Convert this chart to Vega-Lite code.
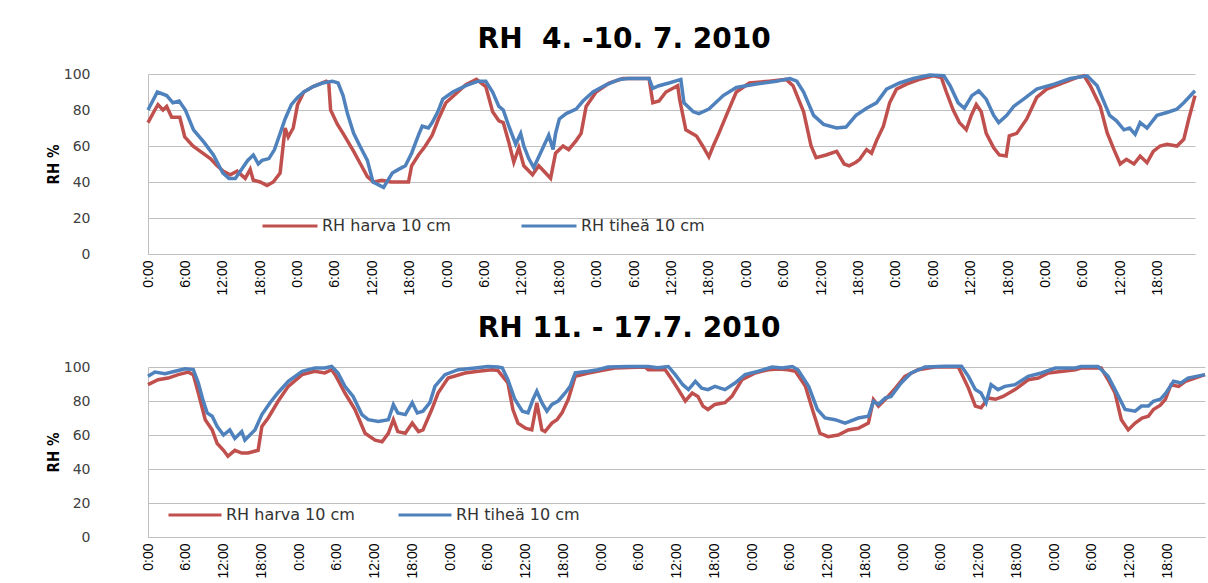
{
  "$schema": "https://vega.github.io/schema/vega-lite/v6.json",
  "background": "white",
  "padding": {"left": 46, "top": 26, "right": 0, "bottom": 0},
  "config": {
    "font": "DejaVu Sans",
    "view": {"stroke": null},
    "title": {"font": "DejaVu Sans", "fontSize": 28, "fontWeight": "bold", "color": "#000000", "anchor": "middle", "frame": "bounds"},
    "concat": {"spacing": 19},
    "axisX": {"labelFont": "Liberation Sans", "labelFontSize": 14, "labelColor": "#000000", "labelAngle": -90, "labelPadding": 6, "labelFlush": false, "labelOverlap": false, "labelBound": false, "ticks": false, "grid": false, "domainColor": "#BFBFBF", "title": null},
    "axisY": {"labelFont": "DejaVu Sans", "labelFontSize": 14, "labelColor": "#404040", "ticks": false, "gridColor": "#BFBFBF", "domainColor": "#BFBFBF", "titleFont": "DejaVu Sans Condensed", "titleFontSize": 15, "titleFontWeight": "bold", "titleColor": "#000000"},
    "legend": {"orient": "none", "direction": "horizontal", "title": null, "symbolType": "stroke", "symbolStrokeWidth": 3, "labelFont": "DejaVu Sans", "labelFontSize": 16, "labelColor": "#333333", "labelOffset": 3}
  },
  "resolve": {"scale": {"color": "independent"}, "legend": {"color": "independent"}},
  "datasets": {
    "a1": [
      {"h":0,"v":73},{"h":1.1,"v":80},{"h":1.6,"v":83},{"h":2.4,"v":80},{"h":3,"v":82},{"h":3.8,"v":76},{"h":5.1,"v":76},{"h":5.9,"v":65},{"h":7.2,"v":60},{"h":8.4,"v":57},{"h":10,"v":53},{"h":11.1,"v":49},{"h":12.1,"v":46},{"h":13.2,"v":44},{"h":14.3,"v":46},{"h":15.6,"v":42},{"h":16.4,"v":47},{"h":16.9,"v":41},{"h":18,"v":40},{"h":19.1,"v":38},{"h":20.1,"v":40},{"h":21.2,"v":45},{"h":22,"v":70},{"h":22.5,"v":65},{"h":23.3,"v":70},{"h":24,"v":83},{"h":25,"v":90},{"h":26.5,"v":93},{"h":28.6,"v":96},{"h":29,"v":95},{"h":29.3,"v":80},{"h":30.4,"v":72},{"h":31.3,"v":67},{"h":33,"v":57},{"h":34.1,"v":50},{"h":35.2,"v":43},{"h":36.2,"v":40},{"h":37.5,"v":41},{"h":39,"v":40},{"h":41.8,"v":40},{"h":42.3,"v":49},{"h":43.4,"v":55},{"h":44.5,"v":60},{"h":45.6,"v":66},{"h":46.6,"v":75},{"h":47.8,"v":84},{"h":49.4,"v":89},{"h":51,"v":94},{"h":52.7,"v":97},{"h":54.2,"v":93},{"h":55.3,"v":79},{"h":56.3,"v":74},{"h":57,"v":73},{"h":57.9,"v":62},{"h":58.7,"v":51},{"h":59.5,"v":59},{"h":60.3,"v":49},{"h":61.7,"v":44},{"h":62.7,"v":49},{"h":63.8,"v":45},{"h":64.6,"v":42},{"h":65.4,"v":56},{"h":66.6,"v":60},{"h":67.5,"v":58},{"h":68.7,"v":63},{"h":69.5,"v":67},{"h":70.3,"v":82},{"h":71.9,"v":90},{"h":74,"v":95},{"h":76.2,"v":97.5},{"h":80.4,"v":97.5},{"h":81,"v":84},{"h":82,"v":85},{"h":83.1,"v":90},{"h":85,"v":93.5},{"h":85.3,"v":86},{"h":86.3,"v":69},{"h":88,"v":65.6},{"h":89,"v":60},{"h":90,"v":54},{"h":90.7,"v":60},{"h":91.6,"v":67},{"h":92.8,"v":77},{"h":94.4,"v":90},{"h":96.5,"v":95},{"h":99.7,"v":96},{"h":102.4,"v":97},{"h":103.5,"v":93.5},{"h":105.2,"v":79},{"h":106.4,"v":60},{"h":107.2,"v":53.5},{"h":108.8,"v":55},{"h":110.5,"v":57},{"h":111.7,"v":50},{"h":112.5,"v":49},{"h":113.6,"v":51},{"h":114.2,"v":52.6},{"h":115.3,"v":58},{"h":116.1,"v":56},{"h":116.9,"v":63},{"h":118,"v":71},{"h":119,"v":84},{"h":120.1,"v":91.6},{"h":121.7,"v":94.4},{"h":123.8,"v":97},{"h":126,"v":99},{"h":127.3,"v":98},{"h":128.1,"v":90},{"h":129.2,"v":80},{"h":130.2,"v":73},{"h":131.3,"v":69},{"h":132.1,"v":77},{"h":132.9,"v":83},{"h":133.7,"v":79},{"h":134.5,"v":67},{"h":135.7,"v":59},{"h":136.6,"v":55},{"h":137.7,"v":54.4},{"h":138.2,"v":65.6},{"h":139.4,"v":67},{"h":141,"v":75},{"h":142.6,"v":87},{"h":144.2,"v":91.6},{"h":146.3,"v":94.4},{"h":149,"v":98},{"h":150.2,"v":99},{"h":151.2,"v":93.5},{"h":152.8,"v":82},{"h":153.9,"v":67.4},{"h":155,"v":58},{"h":156,"v":50},{"h":157,"v":52.6},{"h":158.2,"v":50},{"h":159.2,"v":54.4},{"h":160.3,"v":50.7},{"h":161.3,"v":57},{"h":162.4,"v":60},{"h":163.5,"v":61},{"h":165.1,"v":60},{"h":166.2,"v":63.7},{"h":167,"v":75},{"h":168,"v":88}
    ],
    "b1": [
      {"h":0,"v":80},{"h":1.5,"v":90},{"h":3,"v":88},{"h":4,"v":84},{"h":5,"v":85},{"h":6,"v":80},{"h":7.3,"v":69},{"h":9,"v":62},{"h":10.5,"v":55},{"h":12,"v":45},{"h":13,"v":42},{"h":14,"v":42},{"h":15,"v":47},{"h":16,"v":52},{"h":16.9,"v":55},{"h":17.7,"v":50},{"h":18.3,"v":52},{"h":19.4,"v":53},{"h":20.3,"v":58},{"h":21,"v":65},{"h":22,"v":75},{"h":23,"v":83},{"h":24,"v":87},{"h":25,"v":90},{"h":26.5,"v":93},{"h":28,"v":95},{"h":29.6,"v":96},{"h":30.5,"v":95},{"h":31.3,"v":88},{"h":32,"v":78},{"h":33,"v":67},{"h":34,"v":60},{"h":35.2,"v":52},{"h":36.1,"v":40},{"h":37.8,"v":37},{"h":39.2,"v":45},{"h":40.2,"v":47},{"h":41.3,"v":49},{"h":42.3,"v":56},{"h":43.4,"v":66},{"h":44,"v":71},{"h":45,"v":70},{"h":45.6,"v":73},{"h":46.5,"v":79},{"h":47.3,"v":86},{"h":48.9,"v":90},{"h":51,"v":93.5},{"h":53,"v":96},{"h":54.2,"v":96},{"h":55.3,"v":90},{"h":56.3,"v":82},{"h":57,"v":80},{"h":57.9,"v":71},{"h":59,"v":61},{"h":59.8,"v":67},{"h":60.3,"v":60},{"h":61.1,"v":53},{"h":61.9,"v":48},{"h":62.7,"v":54},{"h":63.5,"v":60},{"h":64.3,"v":66},{"h":65,"v":58},{"h":65.4,"v":67},{"h":66,"v":75},{"h":67.1,"v":78},{"h":68.7,"v":80.5},{"h":69.8,"v":85},{"h":71.4,"v":90},{"h":73.5,"v":94},{"h":75.6,"v":97},{"h":77,"v":97.5},{"h":80.4,"v":97.5},{"h":81,"v":92},{"h":82,"v":93.5},{"h":83.6,"v":95},{"h":85.5,"v":97},{"h":86,"v":84},{"h":87.5,"v":79},{"h":88.4,"v":78},{"h":90,"v":80.5},{"h":92.3,"v":88},{"h":94.4,"v":92.5},{"h":97.6,"v":94.4},{"h":100.8,"v":96},{"h":103,"v":97.5},{"h":104.1,"v":96},{"h":105.2,"v":90},{"h":106.8,"v":77},{"h":108.4,"v":72},{"h":110.5,"v":70},{"h":112,"v":70.5},{"h":113.6,"v":77},{"h":115.3,"v":81},{"h":116.9,"v":84},{"h":118.5,"v":91.6},{"h":120.6,"v":95},{"h":122.8,"v":97.5},{"h":125.4,"v":99.4},{"h":127.7,"v":99},{"h":128.7,"v":93.5},{"h":130,"v":84},{"h":131,"v":81},{"h":132.2,"v":88},{"h":133.3,"v":90.7},{"h":134.5,"v":86},{"h":135.7,"v":77},{"h":136.5,"v":73},{"h":137.8,"v":77},{"h":138.9,"v":82},{"h":140.5,"v":86},{"h":142.6,"v":91.6},{"h":145.4,"v":94.4},{"h":148,"v":97.5},{"h":150.7,"v":99},{"h":152.3,"v":93.5},{"h":154.3,"v":77},{"h":155.4,"v":74},{"h":156.6,"v":69},{"h":157.5,"v":70},{"h":158.4,"v":66.5},{"h":159.2,"v":73},{"h":160.3,"v":70},{"h":161.9,"v":77},{"h":163.5,"v":78.6},{"h":165.1,"v":80.5},{"h":166.2,"v":84},{"h":168,"v":90.7}
    ],
    "a2": [
      {"h":0,"v":89.6},{"h":1.6,"v":92.5},{"h":3.2,"v":93.5},{"h":4.8,"v":95.5},{"h":6.4,"v":97},{"h":7.2,"v":95.5},{"h":8,"v":84.7},{"h":9.1,"v":69},{"h":10.2,"v":63},{"h":11,"v":55},{"h":12,"v":51},{"h":12.7,"v":47.5},{"h":13.8,"v":51},{"h":14.9,"v":49.4},{"h":15.9,"v":49.4},{"h":17.5,"v":51},{"h":18.1,"v":65},{"h":19.1,"v":70},{"h":20.7,"v":80},{"h":22.3,"v":88.6},{"h":24.5,"v":95.5},{"h":26.5,"v":97.5},{"h":28.1,"v":96.5},{"h":29.2,"v":98.4},{"h":29.9,"v":94.5},{"h":31.3,"v":84.7},{"h":32.9,"v":75},{"h":34.5,"v":61},{"h":36.1,"v":57},{"h":37.2,"v":56},{"h":38.2,"v":61},{"h":39,"v":69},{"h":39.7,"v":62},{"h":40.9,"v":61},{"h":42,"v":67},{"h":43,"v":62},{"h":43.7,"v":63},{"h":45.1,"v":75},{"h":46.1,"v":84.7},{"h":47.7,"v":93.5},{"h":50.4,"v":96.5},{"h":52.5,"v":97.5},{"h":54.7,"v":98.4},{"h":55.6,"v":98},{"h":57.2,"v":90.6},{"h":58,"v":75},{"h":58.8,"v":67},{"h":60,"v":64},{"h":61,"v":63},{"h":61.8,"v":79},{"h":62.6,"v":63},{"h":63.1,"v":62},{"h":64.2,"v":67},{"h":65,"v":69},{"h":65.8,"v":73},{"h":66.8,"v":81},{"h":67.9,"v":94.5},{"h":70,"v":96.5},{"h":72.7,"v":98.4},{"h":74.2,"v":99.4},{"h":79,"v":100},{"h":79.5,"v":98.4},{"h":82.2,"v":98.4},{"h":83.3,"v":92.5},{"h":84.3,"v":86.7},{"h":85.4,"v":80},{"h":86.5,"v":84.7},{"h":87.4,"v":82.7},{"h":88.2,"v":77},{"h":89,"v":75},{"h":90.1,"v":78},{"h":91.7,"v":79},{"h":92.8,"v":82.7},{"h":94.4,"v":92.5},{"h":96.5,"v":96.5},{"h":98.6,"v":98.4},{"h":100.2,"v":98.8},{"h":101.7,"v":98.4},{"h":102.9,"v":97.5},{"h":104.5,"v":88.6},{"h":105.6,"v":75},{"h":106.8,"v":61},{"h":108.1,"v":59},{"h":109.7,"v":60},{"h":111.3,"v":63},{"h":112.9,"v":64},{"h":114.5,"v":67},{"h":115.3,"v":80.8},{"h":116.1,"v":77},{"h":117.2,"v":81},{"h":118.8,"v":87.6},{"h":120.3,"v":94.5},{"h":122.4,"v":98.4},{"h":125.1,"v":100},{"h":128.8,"v":100},{"h":130.4,"v":87.6},{"h":131.5,"v":77},{"h":132.4,"v":76},{"h":133,"v":79},{"h":133.5,"v":81.8},{"h":134.7,"v":81},{"h":135.9,"v":82.7},{"h":137.8,"v":86.7},{"h":139.9,"v":92.5},{"h":141.5,"v":93.5},{"h":143.1,"v":96.5},{"h":147.4,"v":98.4},{"h":148.3,"v":99.4},{"h":151.5,"v":99.4},{"h":152.6,"v":92.5},{"h":153.7,"v":84.7},{"h":154.7,"v":69},{"h":155.8,"v":63},{"h":156.9,"v":67},{"h":158,"v":70},{"h":159,"v":71},{"h":159.8,"v":75},{"h":160.9,"v":77.5},{"h":161.7,"v":81},{"h":162.6,"v":89.6},{"h":163.8,"v":88.6},{"h":164.9,"v":91.6},{"h":168,"v":95.5}
    ],
    "b2": [
      {"h":0,"v":94.5},{"h":1.1,"v":97},{"h":2.7,"v":96},{"h":4.3,"v":97.5},{"h":5.9,"v":99},{"h":7.2,"v":98.5},{"h":8,"v":90.6},{"h":8.7,"v":81},{"h":9.4,"v":73},{"h":10.2,"v":71},{"h":11,"v":65},{"h":12,"v":60},{"h":13,"v":63},{"h":13.8,"v":58},{"h":14.9,"v":62},{"h":15.4,"v":57},{"h":17,"v":63},{"h":18.1,"v":72},{"h":19.4,"v":79},{"h":20.7,"v":85},{"h":22.3,"v":91.6},{"h":24.5,"v":97.5},{"h":26.5,"v":99.4},{"h":28.1,"v":99.4},{"h":29.2,"v":100.3},{"h":30.2,"v":96.5},{"h":31.3,"v":88.6},{"h":32.6,"v":82.7},{"h":34,"v":72},{"h":35,"v":69},{"h":36.6,"v":68},{"h":38.2,"v":69},{"h":39,"v":77.8},{"h":39.7,"v":73},{"h":40.9,"v":72},{"h":42,"v":79},{"h":42.8,"v":73},{"h":43.7,"v":74},{"h":44.8,"v":79},{"h":45.6,"v":88.6},{"h":47.2,"v":95.5},{"h":49.3,"v":98.4},{"h":52,"v":99.4},{"h":54,"v":100.3},{"h":55.6,"v":100},{"h":56.3,"v":99.5},{"h":57.2,"v":92.5},{"h":58.3,"v":81},{"h":59.5,"v":74},{"h":60.4,"v":73},{"h":61.2,"v":81},{"h":61.8,"v":85.7},{"h":62.6,"v":79},{"h":63.4,"v":74},{"h":64.2,"v":78},{"h":65.2,"v":80},{"h":66.3,"v":84.7},{"h":67.1,"v":88.6},{"h":67.9,"v":96.5},{"h":70,"v":97.5},{"h":71.5,"v":98.4},{"h":73.1,"v":100},{"h":76.3,"v":100.3},{"h":79.5,"v":100.3},{"h":81,"v":99.5},{"h":82.7,"v":100.3},{"h":83.8,"v":95.5},{"h":85,"v":89.6},{"h":85.9,"v":86.7},{"h":87,"v":91.6},{"h":88,"v":87.6},{"h":89,"v":86.7},{"h":90.1,"v":88.6},{"h":91.7,"v":86.7},{"h":93.3,"v":90.6},{"h":94.9,"v":95.5},{"h":97,"v":97.5},{"h":99.2,"v":100},{"h":100.8,"v":99.4},{"h":102.4,"v":100.3},{"h":103.3,"v":98.4},{"h":105,"v":88.6},{"h":106.4,"v":75},{"h":107.6,"v":70},{"h":109.2,"v":69},{"h":110.8,"v":67},{"h":112.9,"v":70},{"h":114.5,"v":71},{"h":115.3,"v":79.8},{"h":116.1,"v":78},{"h":117.2,"v":81.8},{"h":118.1,"v":82.7},{"h":119.7,"v":90.6},{"h":121.3,"v":96.5},{"h":123.5,"v":100},{"h":126.7,"v":100.5},{"h":129.3,"v":100.5},{"h":130.4,"v":94.5},{"h":131.5,"v":86.7},{"h":132.4,"v":84.7},{"h":133.2,"v":79},{"h":134,"v":89.6},{"h":135.1,"v":86.7},{"h":136.2,"v":88.6},{"h":137.8,"v":89.6},{"h":139.9,"v":94.5},{"h":142,"v":96.5},{"h":144.2,"v":99.4},{"h":147.4,"v":99.4},{"h":148.3,"v":100.3},{"h":151,"v":100.3},{"h":152.6,"v":94.5},{"h":153.7,"v":86.7},{"h":155.3,"v":75},{"h":156.9,"v":74},{"h":157.9,"v":77},{"h":159,"v":77},{"h":159.8,"v":79.8},{"h":160.9,"v":81},{"h":161.8,"v":84.7},{"h":163,"v":91.6},{"h":164.2,"v":90.6},{"h":165.3,"v":93.5},{"h":168,"v":95.5}
    ]
  },
  "vconcat": [
    {
      "title": {"text": "RH\u00a0 4. -10. 7. 2010", "offset": 13},
      "width": 1047,
      "height": 180,
      "encoding": {
        "x": {"field": "h", "type": "quantitative", "scale": {"domain": [0, 168], "nice": false, "zero": false}, "axis": {"values": [0,6,12,18,24,30,36,42,48,54,60,66,72,78,84,90,96,102,108,114,120,126,132,138,144,150,156,162], "labelExpr": "(datum.value % 24) + ':00'"}},
        "y": {"field": "v", "type": "quantitative", "scale": {"domain": [0, 100], "nice": false}, "axis": {"values": [0,20,40,60,80,100], "title": "RH %", "labelPadding": 58, "titlePadding": 2}}
      },
      "layer": [
        {"data": {"name": "a1"}, "mark": {"type": "line", "strokeWidth": 3.5, "clip": false},
         "encoding": {"color": {"datum": "RH harva 10 cm", "type": "nominal", "scale": {"domain": ["RH harva 10 cm", "RH tiheä 10 cm"], "range": ["#C0504D", "#4F81BD"]}, "legend": {"legendX": 113, "legendY": 123, "symbolSize": 3025, "columnPadding": 64}}}},
        {"data": {"name": "b1"}, "mark": {"type": "line", "strokeWidth": 3.5, "clip": false},
         "encoding": {"color": {"datum": "RH tiheä 10 cm", "type": "nominal"}}}
      ]
    },
    {
      "title": {"text": "RH 11. - 17.7. 2010", "offset": 16},
      "width": 1057,
      "height": 170,
      "encoding": {
        "x": {"field": "h", "type": "quantitative", "scale": {"domain": [0, 168], "nice": false, "zero": false}, "axis": {"values": [0,6,12,18,24,30,36,42,48,54,60,66,72,78,84,90,96,102,108,114,120,126,132,138,144,150,156,162], "labelExpr": "(datum.value % 24) + ':00'"}},
        "y": {"field": "v", "type": "quantitative", "scale": {"domain": [0, 100], "nice": false}, "axis": {"values": [0,20,40,60,80,100], "title": "RH %", "labelPadding": 58, "titlePadding": 2}}
      },
      "layer": [
        {"data": {"name": "a2"}, "mark": {"type": "line", "strokeWidth": 3.5, "clip": false},
         "encoding": {"color": {"datum": "RH harva 10 cm", "type": "nominal", "scale": {"domain": ["RH harva 10 cm", "RH tiheä 10 cm"], "range": ["#C0504D", "#4F81BD"]}, "legend": {"legendX": 19, "legendY": 120, "symbolSize": 2809, "columnPadding": 37}}}},
        {"data": {"name": "b2"}, "mark": {"type": "line", "strokeWidth": 3.5, "clip": false},
         "encoding": {"color": {"datum": "RH tiheä 10 cm", "type": "nominal"}}}
      ]
    }
  ]
}
